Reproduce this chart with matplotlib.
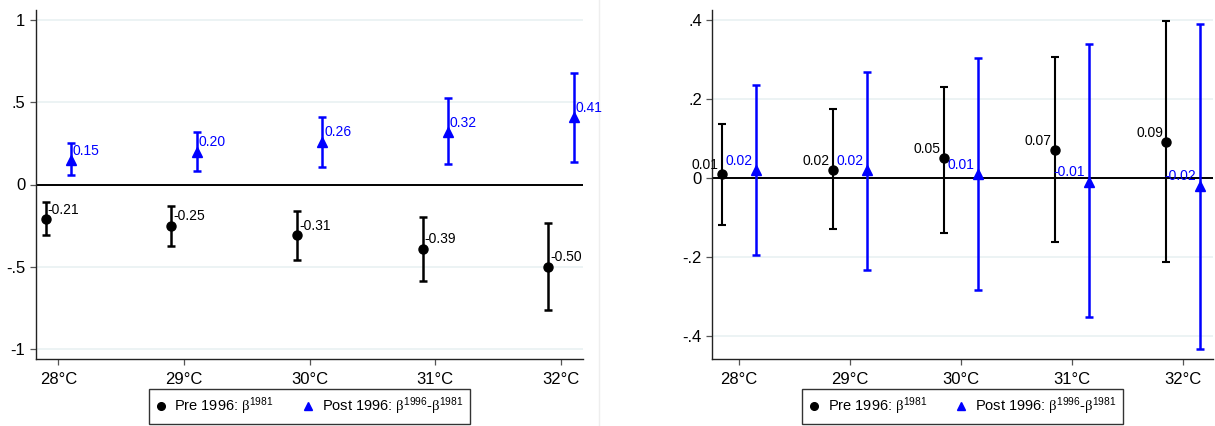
import matplotlib
matplotlib.use("Agg")
import matplotlib.pyplot as plt
from matplotlib.lines import Line2D
import numpy as np

plt.rcParams['font.family'] = ['Liberation Sans', 'DejaVu Sans']
plt.rcParams['mathtext.fontset'] = 'custom'
plt.rcParams['mathtext.rm'] = 'Liberation Sans'
plt.rcParams['mathtext.it'] = 'Liberation Sans'
plt.rcParams['mathtext.sf'] = 'Liberation Serif'

temps = ['28°C', '29°C', '30°C', '31°C', '32°C']

# Panel A: coefficients with 95% confidence bounds
a_pre = [-0.21, -0.25, -0.31, -0.39, -0.50]
a_pre_lo = [-0.305, -0.372, -0.461, -0.589, -0.762]
a_pre_hi = [-0.106, -0.132, -0.161, -0.199, -0.232]
a_post = [0.15, 0.20, 0.26, 0.32, 0.41]
a_post_lo = [0.059, 0.081, 0.106, 0.126, 0.136]
a_post_hi = [0.252, 0.319, 0.409, 0.526, 0.679]

# Panel B
b_pre = [0.01, 0.02, 0.05, 0.07, 0.09]
b_pre_lo = [-0.120, -0.129, -0.140, -0.162, -0.213]
b_pre_hi = [0.136, 0.175, 0.231, 0.305, 0.397]
b_post = [0.02, 0.02, 0.01, -0.01, -0.02]
b_post_lo = [-0.196, -0.233, -0.284, -0.352, -0.434]
b_post_hi = [0.235, 0.269, 0.304, 0.340, 0.390]

a_yticks = [1, 0.5, 0, -0.5, -1]
a_yticklabels = ['1', '.5', '0', '-.5', '-1']
b_yticks = [0.4, 0.2, 0, -0.2, -0.4]
b_yticklabels = ['.4', '.2', '0', '-.2', '-.4']

BLUE = '#0000ff'
GRID = '#e9f1f2'

W, H = 1215, 426
fig = plt.figure(figsize=(W / 100, H / 100), dpi=100)

ax_a = fig.add_axes([35.7 / W, 1 - 359 / H, (583 - 35.7) / W, (359 - 10) / H])
ax_b = fig.add_axes([712.3 / W, 1 - 359 / H, (1213 - 712.3) / W, (359 - 10) / H])

# faint divider between the two panels
fig.add_artist(Line2D([599 / W, 599 / W], [0, 1], transform=fig.transFigure,
                      color='#eeeeee', lw=1, zorder=-5))


def panel(ax, pre, pre_lo, pre_hi, post, post_lo, post_hi, off, yticks, yticklabels,
          ylim, xlim, label_side, lw_pre, lw_post):
    x = np.arange(1, len(temps) + 1)
    xp = x - off
    xq = x + off
    for yt in yticks:
        ax.axhline(yt, color=GRID, lw=1.2, zorder=0)
    ax.axhline(0, color='black', lw=1.4, zorder=1)

    pre = np.array(pre)
    post = np.array(post)
    ax.errorbar(xp, pre, yerr=[pre - np.array(pre_lo), np.array(pre_hi) - pre],
                fmt='none', ecolor='black', elinewidth=lw_pre, capsize=3.2,
                capthick=lw_pre, zorder=2)
    ax.plot(xp, pre, 'o', color='black', ms=6.5, zorder=3)
    ax.errorbar(xq, post, yerr=[post - np.array(post_lo), np.array(post_hi) - post],
                fmt='none', ecolor=BLUE, elinewidth=lw_post, capsize=3.2,
                capthick=lw_post, zorder=2)
    ax.plot(xq, post, '^', color=BLUE, ms=7, zorder=3)

    if label_side == 'right':
        dx, ha = 1.5, 'left'
    else:
        dx, ha = -2.5, 'right'
    for xs, vals, col in ((xp, pre, 'black'), (xq, post, BLUE)):
        for xi, v in zip(xs, vals):
            ax.annotate(f'{v:.2f}', (xi, v), xytext=(dx, 6.7), textcoords='offset points',
                        ha=ha, va='center', fontsize=10, color=col,
                        annotation_clip=False, zorder=4)

    ax.set_xlim(*xlim)
    ax.set_ylim(*ylim)
    ax.set_xticks(x)
    ax.set_xticklabels(temps)
    ax.set_yticks(yticks)
    ax.set_yticklabels(yticklabels)
    for s in ('top', 'right'):
        ax.spines[s].set_visible(False)
    for s in ('left', 'bottom'):
        ax.spines[s].set_color('#222222')
        ax.spines[s].set_linewidth(1.0)
    ax.tick_params(axis='both', labelsize=12, length=4.5, width=0.9, color='#555555', pad=3)
    ax.tick_params(axis='x', pad=5)
    ax.set_facecolor('white')

    handles = [
        Line2D([], [], marker='o', color='black', ls='none', ms=5.5),
        Line2D([], [], marker='^', color=BLUE, ls='none', ms=6),
    ]
    labels = [r'Pre 1996: $\mathsf{β}^{\mathregular{1981}}$',
              r'Post 1996: $\mathsf{β}^{\mathregular{1996}}$-$\mathsf{β}^{\mathregular{1981}}$']
    leg = ax.legend(handles, labels, loc='center', ncol=2,
                    bbox_to_anchor=(0.5, (0.0458 - 0.1573) / 0.8192),
                    frameon=True, fancybox=False, edgecolor='black', fontsize=10.5,
                    handlelength=0.7, handletextpad=0.6, columnspacing=2.0,
                    borderpad=0.45, borderaxespad=0)
    leg.get_frame().set_linewidth(1.0)


panel(ax_a, a_pre, a_pre_lo, a_pre_hi, a_post, a_post_lo, a_post_hi, 0.1,
      a_yticks, a_yticklabels, (-1.061, 1.061), (0.82, 5.175), 'right', 1.8, 1.8)
panel(ax_b, b_pre, b_pre_lo, b_pre_hi, b_post, b_post_lo, b_post_hi, 0.15,
      b_yticks, b_yticklabels, (-0.459, 0.425), (0.76, 5.27), 'left', 1.5, 1.8)

fig.savefig('out.png', dpi=100, facecolor='white')
